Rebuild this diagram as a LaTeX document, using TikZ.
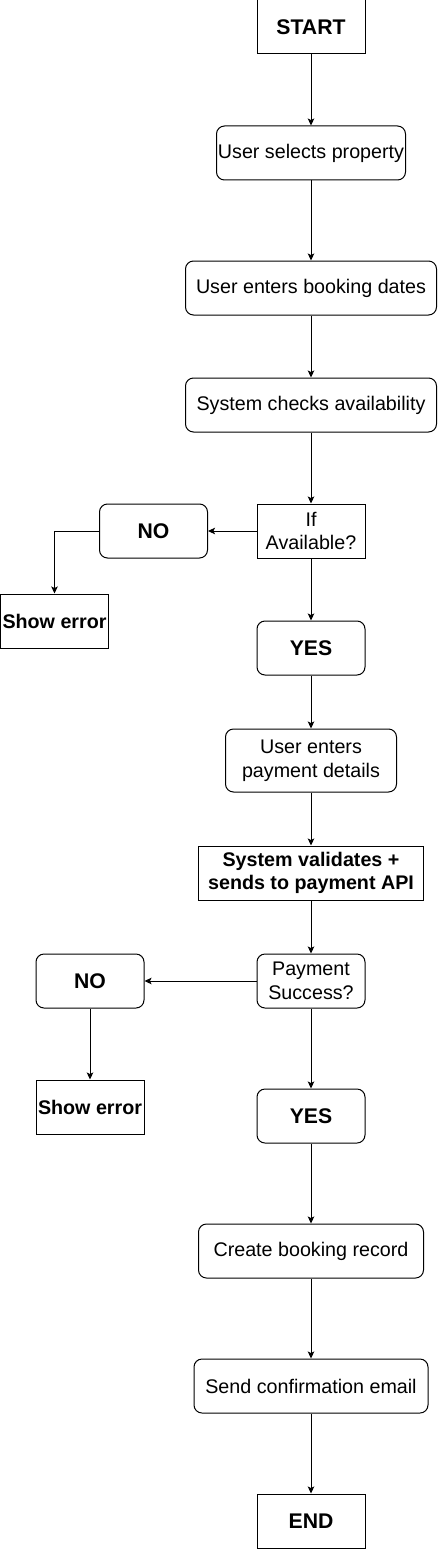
\documentclass[tikz,border=0pt]{standalone}
\usepackage{fontspec}
\setmainfont{Liberation Sans}
\usetikzlibrary{arrows.meta}
\tikzset{
  base/.style={draw=black, line width=1pt, inner sep=0pt, align=center,
    font=\fontsize{19.7}{23.6}\selectfont, text=black},
  sq/.style={base},
  rnd/.style={base, rounded corners=8pt},
  bld/.style={font=\fontsize{19.7}{23.6}\selectfont\bfseries},
  big/.style={font=\fontsize{21.2}{25.4}\selectfont\bfseries},
  arr/.style={draw=black, line width=1pt, -{Stealth[length=7pt,width=6.5pt,inset=1.5pt]}}
}
\begin{document}
\begin{tikzpicture}[x=1pt,y=-1pt]
\useasboundingbox (0,0) rectangle (438,1549);
\node[sq, big, minimum width=108pt, minimum height=54pt] (start) at (311,27) {START};
\node[rnd, minimum width=189pt, minimum height=54pt] (sel) at (311,153) {User selects property};
\node[rnd, minimum width=251pt, minimum height=54pt] (dates) at (311,288) {User enters booking dates};
\node[rnd, minimum width=251pt, minimum height=54pt] (avail) at (311,405) {System checks availability};
\node[sq, minimum width=108pt, minimum height=54pt] (ifa) at (311,531) {If\\Available?};
\node[rnd, big, minimum width=108pt, minimum height=54pt] (no1) at (153.5,531) {NO};
\node[sq, bld, minimum width=108pt, minimum height=54pt] (err1) at (54.5,621) {Show error};
\node[rnd, big, minimum width=108pt, minimum height=54pt] (yes1) at (311,648) {YES};
\node[rnd, minimum width=171pt, minimum height=63pt] (paydet) at (311,760.5) {User enters\\payment details};
\node[sq, bld, minimum width=225pt, minimum height=54pt] (val) at (311,873) {System validates +\\sends to payment API};
\node[rnd, minimum width=108pt, minimum height=54pt] (ps) at (311,981) {Payment\\Success?};
\node[rnd, big, minimum width=108pt, minimum height=54pt] (no2) at (90,981) {NO};
\node[sq, bld, minimum width=108pt, minimum height=54pt] (err2) at (90,1107) {Show error};
\node[rnd, big, minimum width=108pt, minimum height=54pt] (yes2) at (311,1116) {YES};
\node[rnd, minimum width=225pt, minimum height=54pt] (create) at (311,1251) {Create booking record};
\node[rnd, minimum width=234pt, minimum height=54pt] (send) at (311,1386) {Send confirmation email};
\node[sq, big, minimum width=108pt, minimum height=54pt] (end) at (311,1521) {END};

\draw[arr] (start) -- (sel);
\draw[arr] (sel) -- (dates);
\draw[arr] (dates) -- (avail);
\draw[arr] (avail) -- (ifa);
\draw[arr] (ifa) -- (no1);
\draw[arr] (no1.west) -| (err1.north);
\draw[arr] (ifa) -- (yes1);
\draw[arr] (yes1) -- (paydet);
\draw[arr] (paydet) -- (val);
\draw[arr] (val) -- (ps);
\draw[arr] (ps) -- (no2);
\draw[arr] (no2) -- (err2);
\draw[arr] (ps) -- (yes2);
\draw[arr] (yes2) -- (create);
\draw[arr] (create) -- (send);
\draw[arr] (send) -- (end);
\end{tikzpicture}
\end{document}
